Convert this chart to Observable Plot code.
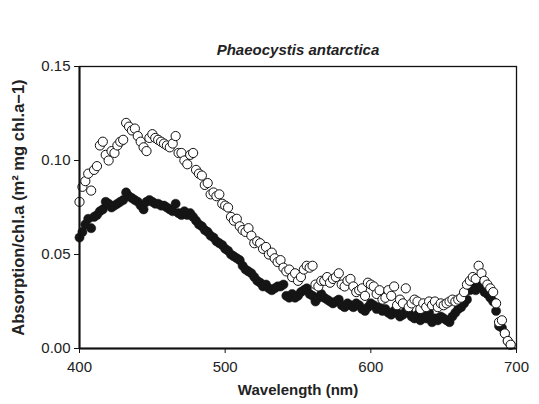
<!DOCTYPE html>
<html>
<head>
<meta charset="utf-8">
<script src="https://cdn.jsdelivr.net/npm/d3@7"></script>
<script src="https://cdn.jsdelivr.net/npm/@observablehq/plot@0.6"></script>
<style>
  body { margin: 0; background: #fff; }
  svg { font-family: "Liberation Sans", Arial, sans-serif; }
</style>
</head>
<body>
<div id="chart"></div>
<script>
const title = "Phaeocystis antarctica";
const xLabel = "Wavelength (nm)";
const yLabel = "Absorption/chl.a (m² mg chl.a−1)";
const xTicks = [400, 500, 600, 700];
const yTicks = [0, 0.05, 0.10, 0.15];

const wavelength = [
  400,402,404,406,408,410,412,414,416,418,
  420,422,424,426,428,430,432,434,436,438,
  440,442,444,446,448,450,452,454,456,458,
  460,462,464,466,468,470,472,474,476,478,
  480,482,484,486,488,490,492,494,496,498,
  500,502,504,506,508,510,512,514,516,518,
  520,522,524,526,528,530,532,534,536,538,
  540,542,544,546,548,550,552,554,556,558,
  560,562,564,566,568,570,572,574,576,578,
  580,582,584,586,588,590,592,594,596,598,
  600,602,604,606,608,610,612,614,616,618,
  620,622,624,626,628,630,632,634,636,638,
  640,642,644,646,648,650,652,654,656,658,
  660,662,664,666,668,670,672,674,676,678,
  680,682,684,686,688,690,692,694,696
];

// filled circles
const filledSeries = [
  0.059,0.062,0.066,0.069,0.064,0.070,0.071,0.073,0.074,0.078,
  0.077,0.075,0.076,0.077,0.078,0.079,0.083,0.081,0.080,0.079,
  0.078,0.076,0.074,0.078,0.079,0.078,0.077,0.077,0.076,0.076,
  0.075,0.074,0.073,0.077,0.072,0.071,0.073,0.071,0.072,0.070,
  0.068,0.066,0.065,0.063,0.062,0.060,0.059,0.057,0.056,0.055,
  0.053,0.052,0.050,0.049,0.048,0.047,0.044,0.042,0.041,0.040,
  0.038,0.036,0.035,0.033,0.034,0.032,0.031,0.032,0.033,0.033,
  0.034,0.028,0.027,0.029,0.027,0.028,0.030,0.031,0.032,0.029,
  0.028,0.025,0.027,0.029,0.027,0.026,0.025,0.024,0.025,0.026,
  0.023,0.022,0.024,0.023,0.022,0.024,0.023,0.021,0.020,0.022,
  0.024,0.023,0.021,0.022,0.020,0.021,0.019,0.018,0.020,0.019,
  0.017,0.018,0.020,0.019,0.017,0.016,0.018,0.015,0.017,0.016,
  0.019,0.014,0.016,0.015,0.017,0.016,0.015,0.014,0.017,0.019,
  0.021,0.022,0.024,0.026,0.031,0.033,0.031,0.035,0.033,0.030,
  0.029,0.027,0.025,0.020,0.012,0.011,0.008,0.004,0.002
];

// open circles
const openSeries = [
  0.078,0.086,0.089,0.093,0.084,0.095,0.097,0.108,0.110,0.103,
  0.100,0.105,0.104,0.108,0.110,0.111,0.120,0.118,0.116,0.117,
  0.113,0.110,0.107,0.105,0.112,0.114,0.112,0.111,0.110,0.109,
  0.108,0.107,0.109,0.113,0.104,0.104,0.100,0.098,0.103,0.104,
  0.095,0.093,0.092,0.087,0.088,0.082,0.083,0.081,0.082,0.077,
  0.076,0.075,0.070,0.068,0.069,0.065,0.063,0.062,0.064,0.060,
  0.056,0.057,0.056,0.053,0.054,0.050,0.051,0.048,0.046,0.047,
  0.043,0.041,0.042,0.038,0.040,0.036,0.038,0.042,0.044,0.043,
  0.044,0.034,0.033,0.036,0.036,0.038,0.035,0.037,0.038,0.040,
  0.034,0.033,0.036,0.037,0.033,0.030,0.031,0.032,0.028,0.035,
  0.034,0.033,0.029,0.031,0.026,0.027,0.031,0.028,0.033,0.023,
  0.026,0.024,0.032,0.022,0.024,0.026,0.025,0.021,0.024,0.022,
  0.025,0.023,0.025,0.022,0.024,0.023,0.024,0.025,0.026,0.025,
  0.026,0.027,0.030,0.034,0.036,0.038,0.037,0.044,0.040,0.036,
  0.034,0.032,0.030,0.024,0.014,0.015,0.008,0.004,0.002
];

const filledData = wavelength.map((w, i) => ({w, v: filledSeries[i]}));
const openData = wavelength.map((w, i) => ({w, v: openSeries[i]}));

const chart = Plot.plot({
  width: 539,
  height: 404,
  marginLeft: 79,
  marginRight: 23,
  marginTop: 66,
  marginBottom: 56,
  style: {fontSize: "15px", fontFamily: "'Liberation Sans', Arial, sans-serif", color: "#222", background: "#fff"},
  x: {domain: [400, 700], ticks: xTicks, tickSize: 5, label: null},
  y: {domain: [0, 0.15], ticks: yTicks, tickSize: 5, tickFormat: d3.format(".2f"), label: null},
  marks: [
    Plot.dot(filledData, {x: "w", y: "v", r: 4.6, fill: "#151515", stroke: "#151515", strokeWidth: 0.5}),
    Plot.dot(openData, {x: "w", y: "v", r: 4.6, fill: "#fff", stroke: "#111", strokeWidth: 1}),
    Plot.frame({stroke: "#111", strokeWidth: 1.3}),
    Plot.ruleX([400], {stroke: "#111", strokeWidth: 2}),
    Plot.ruleY([0], {stroke: "#111", strokeWidth: 2}),
    Plot.axisX({ticks: xTicks, tickSize: 5, tickPadding: 8, label: null, fontSize: 15, stroke: "#111"}),
    Plot.axisY({ticks: yTicks, tickSize: 5, tickPadding: 4, tickFormat: d3.format(".2f"), label: null, fontSize: 15, stroke: "#111"}),
    Plot.text([title], {frameAnchor: "top", dy: -22, text: d => d, fontSize: 15, fontWeight: "bold", fontStyle: "italic", fill: "#222"}),
    Plot.text([xLabel], {frameAnchor: "bottom", dy: 46, text: d => d, fontSize: 15, fontWeight: "bold", fill: "#222"}),
    Plot.text([yLabel], {frameAnchor: "left", textAnchor: "middle", dx: -61, rotate: -90, text: d => d, fontSize: 16.5, fontWeight: "bold", fill: "#222"})
  ]
});
document.getElementById("chart").appendChild(chart);
</script>
</body>
</html>
